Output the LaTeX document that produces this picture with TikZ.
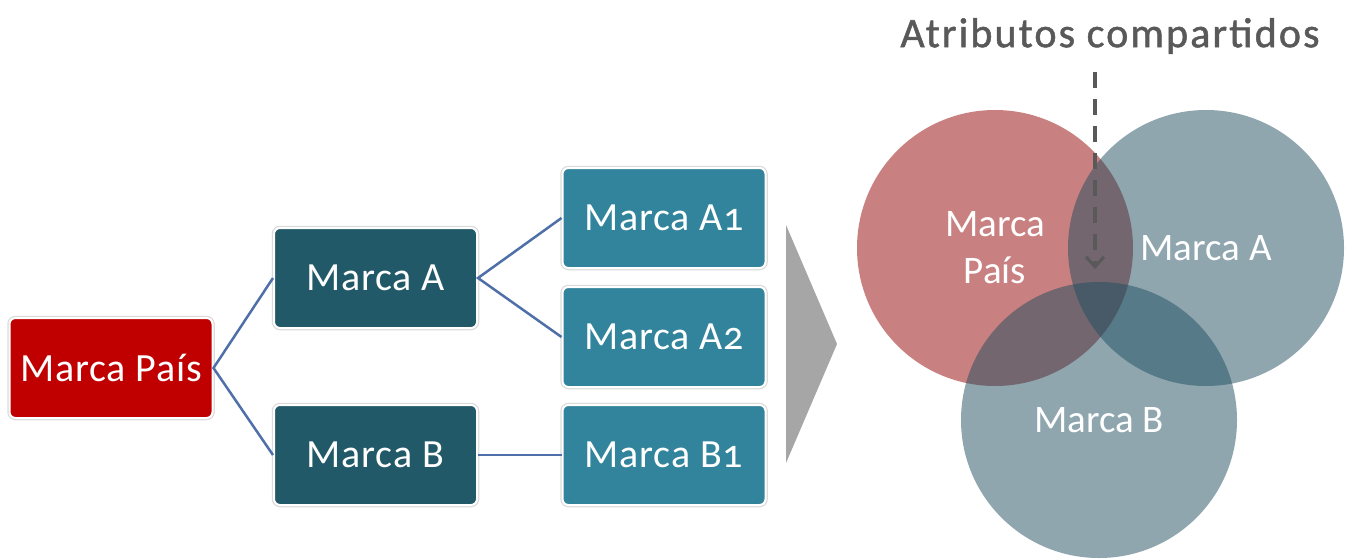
\documentclass[tikz,border=0pt]{standalone}
\usepackage{fontspec}
\setmainfont{Carlito}[Numbers=OldStyle]
\usetikzlibrary{arrows.meta}
\definecolor{paisred}{HTML}{C00000}
\definecolor{darkteal}{HTML}{215968}
\definecolor{midteal}{HTML}{31849B}
\definecolor{linkblue}{HTML}{4F6FA8}
\definecolor{chevgray}{HTML}{A6A6A6}
\definecolor{titlegray}{HTML}{595959}
\definecolor{vennred}{HTML}{A52B2B}
\definecolor{venteal}{HTML}{1F4E5F}
\tikzset{
  brandbox/.style={rounded corners=6pt, text=white, draw=white, line width=2pt,
    preaction={draw=black!14, line width=4.5pt},
    minimum width=203pt, minimum height=100pt, inner sep=0pt,
    font=\fontsize{40}{42}\selectfont\addfontfeature{LetterSpace=2}},
  link/.style={draw=linkblue, line width=2.5pt},
  venn/.style={circle, minimum size=276pt, inner sep=0pt, fill opacity=0.5,
    text=white, text opacity=1, align=center,
    font=\fontsize{39}{47}\selectfont},
}
\begin{document}
\begin{tikzpicture}[x=1pt,y=-1pt]
\useasboundingbox (0,0) rectangle (1347,558);

% hierarchy of brands
\node[brandbox, fill=paisred] (mp) at (111,368) {Marca País};
\node[brandbox, fill=darkteal] (ma) at (375.5,278) {Marca A};
\node[brandbox, fill=darkteal] (mb) at (375.5,455) {Marca B};
\node[brandbox, fill=midteal] (a1) at (664,218) {Marca A1};
\node[brandbox, fill=midteal] (a2) at (664,337) {Marca A2};
\node[brandbox, fill=midteal] (b1) at (664,455) {Marca B1};

\draw[link] (ma.west) -- (mp.east) -- (mb.west);
\draw[link] (a1.west) -- (ma.east) -- (a2.west);
\draw[link] (mb.east) -- (b1.west);

% transition chevron
\fill[chevgray] (786,225) -- (837,344) -- (786,463) -- cycle;

% overlapping brands
\node[venn, fill=vennred, fill opacity=0.6] (cp) at (995,248) {Marca\\País};
\node[venn, fill=venteal] (ca) at (1206,248) {Marca A};
\node[venn, fill=venteal] (cb) at (1099,420) {Marca B};

% shared attributes label
\node[text=titlegray, font=\fontsize{42}{44}\selectfont\addfontfeature{LetterSpace=5,FakeBold=1.2}]
  (attr) at (1110,36) {Atributos compartidos};
\coordinate (arrstart) at (1095,72);
\coordinate (arrend) at (1095,269);
\draw[titlegray, line width=4pt, dash pattern=on 16pt off 11pt,
  -{Straight Barb[length=10pt,width=18pt,line width=3pt]}] (arrstart) -- (arrend);
\end{tikzpicture}
\end{document}
